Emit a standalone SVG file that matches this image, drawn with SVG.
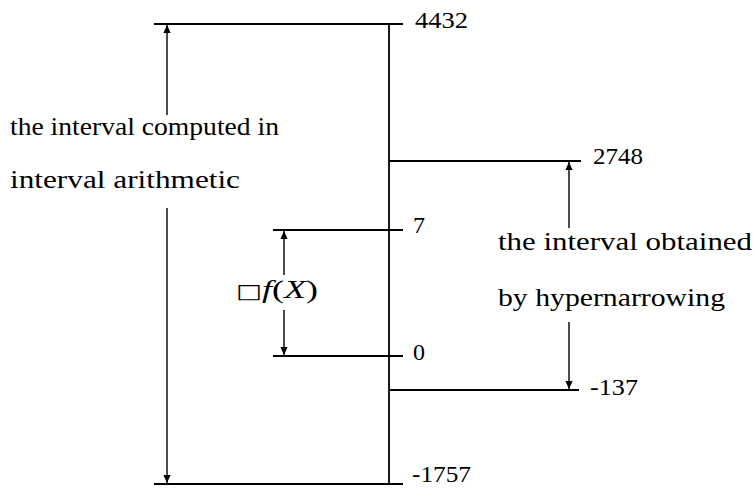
<svg xmlns="http://www.w3.org/2000/svg" width="755" height="491" viewBox="0 0 755 491">
<style>
.ln{stroke:#000;stroke-width:1.8;fill:none}
.ar{stroke:#000;stroke-width:1.4;fill:none}
text{font-family:"Liberation Serif","Times New Roman",serif;fill:#000}
.w{font-size:26px}
.n{font-size:24px}
</style>
<defs>
<marker id="ah" viewBox="0 0 10 10" refX="10" refY="5" markerWidth="8" markerHeight="8" markerUnits="userSpaceOnUse" orient="auto">
<path d="M0,0.5 L10,5 L0,9.5 Z" fill="#000"/>
</marker>
</defs>
<rect width="755" height="491" fill="#fff"/>
<g id="connectors">
<line class="ln" x1="389" y1="24" x2="389" y2="484"/>
<line class="ln" x1="154" y1="24" x2="403" y2="24"/>
<line class="ln" x1="154" y1="484" x2="403" y2="484"/>
<line class="ln" x1="389" y1="161" x2="581" y2="161"/>
<line class="ln" x1="389" y1="390" x2="579" y2="390"/>
<line class="ln" x1="273" y1="230" x2="403" y2="230"/>
<line class="ln" x1="273" y1="356" x2="403" y2="356"/>
<line class="ar" x1="167" y1="115" x2="167" y2="25" marker-end="url(#ah)"/>
<line class="ar" x1="167" y1="208" x2="167" y2="483" marker-end="url(#ah)"/>
<line class="ar" x1="569" y1="228" x2="569" y2="162" marker-end="url(#ah)"/>
<line class="ar" x1="569" y1="322" x2="569" y2="389" marker-end="url(#ah)"/>
<line class="ar" x1="284" y1="275" x2="284" y2="231" marker-end="url(#ah)"/>
<line class="ar" x1="284" y1="310" x2="284" y2="355" marker-end="url(#ah)"/>
</g>
<g id="label-4432"><text class="n" x="415" y="28" textLength="53" lengthAdjust="spacingAndGlyphs">4432</text></g>
<g id="label-m1757"><text class="n" x="412" y="482" textLength="59" lengthAdjust="spacingAndGlyphs">-1757</text></g>
<g id="label-2748"><text class="n" x="593" y="164" textLength="50" lengthAdjust="spacingAndGlyphs">2748</text></g>
<g id="label-m137"><text class="n" x="590" y="395" textLength="48" lengthAdjust="spacingAndGlyphs">-137</text></g>
<g id="label-7"><text class="n" x="413" y="233">7</text></g>
<g id="label-0"><text class="n" x="413" y="360">0</text></g>
<g id="label-computed">
<text class="w" x="10" y="135" textLength="269" lengthAdjust="spacingAndGlyphs">the interval computed in</text>
<text class="w" x="10" y="188" textLength="230" lengthAdjust="spacingAndGlyphs">interval arithmetic</text>
</g>
<g id="label-obtained">
<text class="w" x="498" y="250" textLength="254" lengthAdjust="spacingAndGlyphs">the interval obtained</text>
<text class="w" x="498" y="306" textLength="227" lengthAdjust="spacingAndGlyphs">by hypernarrowing</text>
</g>
<g id="label-fX">
<text class="w" x="236" y="298" textLength="82" lengthAdjust="spacingAndGlyphs"><tspan font-family="DejaVu Sans, sans-serif" font-size="20">□</tspan><tspan font-style="italic">f</tspan>(<tspan font-style="italic">X</tspan>)</text>
</g>
</svg>
